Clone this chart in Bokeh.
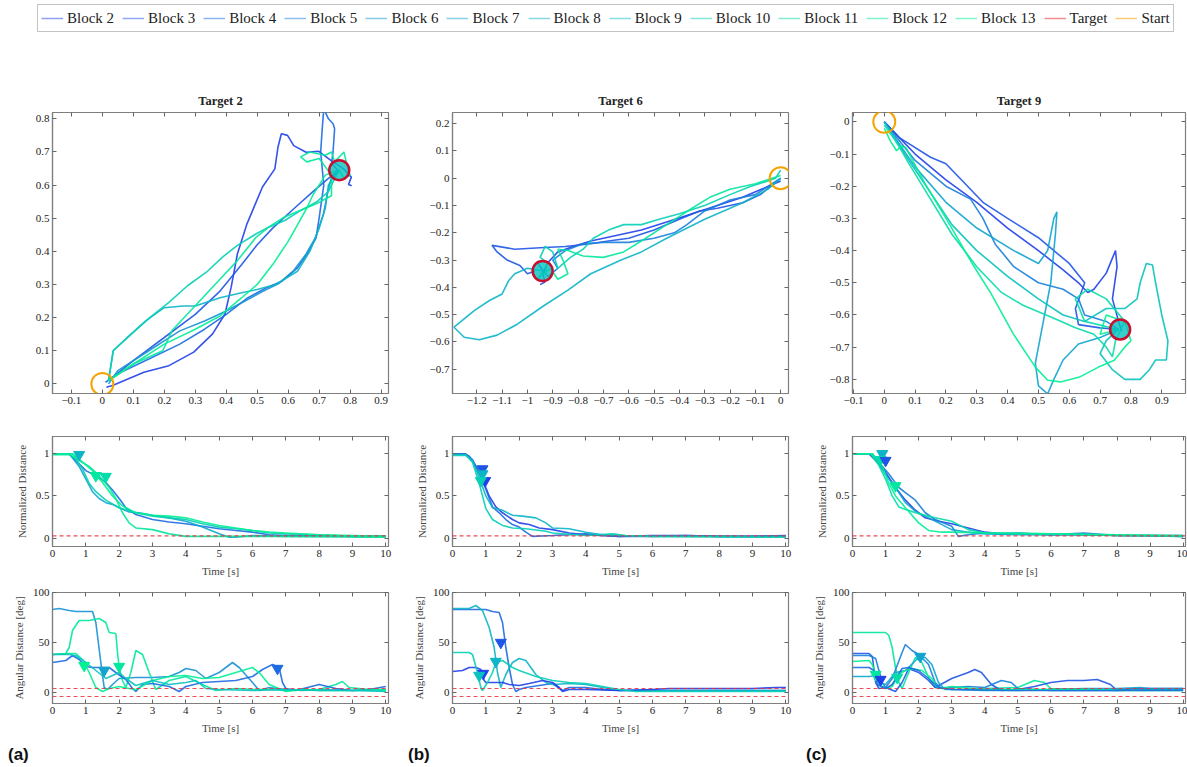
from bokeh.plotting import figure
from bokeh.models import (Range1d, LinearAxis, FixedTicker, CustomJSTickFormatter,
                          Span, Legend, LegendItem, Div)
from bokeh.layouts import column, row
from bokeh.embed import file_html
from bokeh.resources import INLINE

SERIF = "Liberation Serif"
FRAME = "#7f7f7f"
TICK = "#666666"

BLOCKS = [2, 3, 4, 5, 6, 7, 8, 9, 10, 11, 12, 13]
BLOCK_COLORS = ["#1f3fea", "#1f55e6", "#1d6ae2", "#1a7fdc", "#1592d6", "#10a4cf",
                "#0cb4c8", "#08c2bf", "#06cfb5", "#04dcaa", "#02e79f", "#00f094"]
COLOR = dict(zip(BLOCKS, BLOCK_COLORS))
TARGET_COLOR = "#e8303c"
TARGET_RING = "#c8102e"
START_COLOR = "#f5a300"

# ---------------- trajectories (x, y) ----------------
# Target 2
T2_B2 = [(0.013, -0.010), (0.033, -0.005), (0.134, 0.035), (0.215, 0.055), (0.295, 0.096),
         (0.356, 0.151), (0.396, 0.211), (0.416, 0.292), (0.436, 0.392), (0.467, 0.483),
         (0.517, 0.594), (0.557, 0.649), (0.567, 0.714), (0.578, 0.755), (0.598, 0.750),
         (0.618, 0.719), (0.658, 0.699), (0.699, 0.702), (0.739, 0.674), (0.779, 0.649),
         (0.804, 0.624), (0.795, 0.602), (0.805, 0.598)]
T2_B3 = [(0.02, 0.01), (0.10, 0.07), (0.20, 0.14), (0.30, 0.21), (0.38, 0.28), (0.45, 0.36),
         (0.50, 0.42), (0.55, 0.47), (0.62, 0.53), (0.68, 0.58), (0.73, 0.62), (0.765, 0.645)]
T2_B4 = [(0.01, 0.005), (0.06, 0.035), (0.15, 0.075), (0.25, 0.12), (0.33, 0.165), (0.40, 0.21),
         (0.47, 0.26), (0.53, 0.29), (0.58, 0.31), (0.63, 0.35), (0.66, 0.39), (0.69, 0.44),
         (0.70, 0.50), (0.715, 0.60), (0.705, 0.70), (0.71, 0.77), (0.715, 0.83), (0.73, 0.80),
         (0.745, 0.785), (0.75, 0.77), (0.745, 0.70), (0.74, 0.665), (0.76, 0.645)]
T2_B6 = [(0.02, 0.0), (0.05, 0.04), (0.15, 0.10), (0.25, 0.16), (0.33, 0.19), (0.40, 0.22),
         (0.48, 0.26), (0.52, 0.28), (0.568, 0.302), (0.618, 0.342), (0.658, 0.392),
         (0.689, 0.443), (0.714, 0.513), (0.729, 0.584), (0.74, 0.624), (0.765, 0.645)]
T2_B8 = [(0.02, 0.01), (0.035, 0.10), (0.08, 0.14), (0.14, 0.19), (0.20, 0.23), (0.26, 0.235),
         (0.30, 0.235), (0.38, 0.26), (0.45, 0.275), (0.50, 0.285), (0.56, 0.30), (0.63, 0.34),
         (0.67, 0.40), (0.70, 0.47), (0.72, 0.53), (0.73, 0.60), (0.75, 0.63), (0.765, 0.645)]
T2_B10 = [(0.02, 0.01), (0.035, 0.10), (0.083, 0.141), (0.154, 0.201), (0.215, 0.246),
          (0.276, 0.297), (0.336, 0.337), (0.387, 0.382), (0.436, 0.418), (0.497, 0.453),
          (0.537, 0.473), (0.589, 0.493), (0.64, 0.523), (0.69, 0.548), (0.73, 0.58),
          (0.75, 0.62), (0.765, 0.645)]
T2_B12 = [(0.02, 0.01), (0.10, 0.06), (0.195, 0.10), (0.21, 0.13), (0.225, 0.161), (0.265, 0.201),
          (0.315, 0.251), (0.376, 0.312), (0.436, 0.372), (0.497, 0.443), (0.537, 0.473),
          (0.587, 0.503), (0.638, 0.523), (0.689, 0.543), (0.74, 0.568), (0.74, 0.63),
          (0.70, 0.68), (0.66, 0.67), (0.64, 0.685), (0.67, 0.70), (0.72, 0.69), (0.74, 0.70),
          (0.75, 0.67), (0.78, 0.70), (0.79, 0.66), (0.80, 0.63), (0.78, 0.62), (0.765, 0.645)]
T2_B13 = [(0.02, 0.01), (0.10, 0.06), (0.20, 0.12), (0.30, 0.165), (0.38, 0.205), (0.45, 0.26),
          (0.50, 0.30), (0.55, 0.36), (0.60, 0.43), (0.63, 0.48), (0.66, 0.53), (0.68, 0.57),
          (0.70, 0.60), (0.72, 0.63), (0.76, 0.645)]
# Target 6
T6_B2 = [(0.0, -0.01), (-0.05, -0.03), (-0.15, -0.07), (-0.25, -0.10), (-0.35, -0.13),
         (-0.45, -0.16), (-0.55, -0.19), (-0.65, -0.21), (-0.75, -0.23), (-0.82, -0.25),
         (-0.88, -0.27), (-0.92, -0.31), (-0.94, -0.35), (-0.93, -0.38), (-0.95, -0.39)]
T6_B3 = [(0.0, 0.0), (-0.08, -0.06), (-0.15, -0.09), (-0.25, -0.11), (-0.32, -0.12),
         (-0.40, -0.15), (-0.50, -0.19), (-0.60, -0.22), (-0.68, -0.23), (-0.75, -0.24),
         (-0.85, -0.25), (-0.95, -0.255), (-1.05, -0.26), (-1.14, -0.246), (-1.12, -0.27),
         (-1.08, -0.30), (-1.03, -0.32), (-1.00, -0.35), (-0.97, -0.34)]
T6_B5 = [(0.0, 0.0), (-0.1, -0.06), (-0.2, -0.08), (-0.3, -0.12), (-0.37, -0.17), (-0.42, -0.20),
         (-0.5, -0.22), (-0.6, -0.235), (-0.7, -0.235), (-0.78, -0.24), (-0.85, -0.265),
         (-0.90, -0.30), (-0.88, -0.33), (-0.92, -0.36), (-0.96, -0.31), (-0.94, -0.34)]
T6_B8 = [(0.0, 0.0), (-0.05, -0.04), (-0.15, -0.09), (-0.3, -0.15), (-0.45, -0.22),
         (-0.55, -0.27), (-0.63, -0.30), (-0.75, -0.35), (-0.84, -0.41), (-0.94, -0.47),
         (-1.04, -0.535), (-1.12, -0.575), (-1.19, -0.592), (-1.25, -0.583), (-1.29, -0.546),
         (-1.21, -0.485), (-1.15, -0.448), (-1.10, -0.424), (-1.074, -0.375), (-1.05, -0.35),
         (-1.0, -0.33), (-0.94, -0.34)]
T6_B10 = [(0.0, 0.03), (-0.02, 0.0), (-0.05, -0.01), (-0.12, -0.03), (-0.2, -0.06), (-0.3, -0.10),
          (-0.4, -0.13), (-0.48, -0.15), (-0.55, -0.17), (-0.62, -0.17), (-0.68, -0.19),
          (-0.74, -0.22), (-0.78, -0.26), (-0.83, -0.29), (-0.88, -0.33), (-0.90, -0.27),
          (-0.93, -0.25), (-0.95, -0.29), (-0.92, -0.31), (-0.93, -0.34)]
T6_B12 = [(0.0, 0.01), (-0.1, -0.02), (-0.2, -0.04), (-0.28, -0.07), (-0.35, -0.11),
          (-0.45, -0.17), (-0.55, -0.23), (-0.62, -0.27), (-0.7, -0.29), (-0.78, -0.285),
          (-0.84, -0.265), (-0.88, -0.26), (-0.86, -0.30), (-0.84, -0.35), (-0.88, -0.37),
          (-0.91, -0.33), (-0.96, -0.37), (-0.94, -0.34)]
# Target 9
T9_B2 = [(0.0, 0.0), (0.1, -0.10), (0.2, -0.18), (0.3, -0.25), (0.4, -0.33), (0.5, -0.40),
         (0.58, -0.46), (0.63, -0.50), (0.66, -0.53), (0.68, -0.52), (0.72, -0.47), (0.75, -0.40),
         (0.755, -0.45), (0.74, -0.55), (0.76, -0.62), (0.77, -0.65)]
T9_B3 = [(0.0, 0.0), (0.05, -0.05), (0.15, -0.11), (0.2, -0.13), (0.25, -0.18), (0.32, -0.25),
         (0.4, -0.30), (0.5, -0.36), (0.6, -0.44), (0.65, -0.50), (0.62, -0.58), (0.63, -0.63),
         (0.70, -0.64), (0.76, -0.645)]
T9_B5 = [(0.0, 0.0), (0.1, -0.12), (0.2, -0.20), (0.28, -0.24), (0.32, -0.30), (0.36, -0.38),
         (0.42, -0.45), (0.5, -0.50), (0.58, -0.52), (0.63, -0.55), (0.65, -0.60), (0.72, -0.62),
         (0.76, -0.645)]
T9_B7 = [(0.0, 0.0), (0.1, -0.14), (0.2, -0.25), (0.3, -0.33), (0.42, -0.40), (0.5, -0.44),
         (0.53, -0.40), (0.55, -0.30), (0.56, -0.28), (0.555, -0.35), (0.54, -0.5), (0.52, -0.6),
         (0.50, -0.7), (0.49, -0.75), (0.50, -0.82), (0.53, -0.845), (0.55, -0.80), (0.58, -0.74),
         (0.63, -0.69), (0.70, -0.67), (0.76, -0.645)]
T9_B9 = [(0.0, 0.0), (0.08, -0.12), (0.15, -0.22), (0.22, -0.32), (0.3, -0.40), (0.4, -0.48),
         (0.5, -0.55), (0.58, -0.60), (0.65, -0.62), (0.72, -0.58), (0.78, -0.58), (0.82, -0.55),
         (0.83, -0.50), (0.85, -0.44), (0.87, -0.445), (0.88, -0.5), (0.9, -0.6), (0.92, -0.68),
         (0.915, -0.74), (0.88, -0.74), (0.86, -0.77), (0.83, -0.8), (0.78, -0.80), (0.74, -0.77),
         (0.70, -0.72), (0.72, -0.68), (0.76, -0.645)]
T9_B11 = [(0.0, -0.01), (0.03, -0.05), (0.05, -0.08), (0.08, -0.13), (0.15, -0.24), (0.22, -0.35),
          (0.3, -0.45), (0.38, -0.53), (0.45, -0.57), (0.55, -0.61), (0.62, -0.64), (0.68, -0.66),
          (0.72, -0.70), (0.74, -0.73), (0.75, -0.68), (0.78, -0.62), (0.72, -0.55), (0.66, -0.52),
          (0.62, -0.55), (0.65, -0.62), (0.76, -0.645)]
T9_B13 = [(0.0, -0.02), (0.02, -0.06), (0.04, -0.09), (0.054, -0.076), (0.07, -0.08),
          (0.131, -0.19), (0.203, -0.304), (0.285, -0.44), (0.346, -0.533), (0.418, -0.658),
          (0.49, -0.762), (0.53, -0.803), (0.572, -0.808), (0.633, -0.793), (0.695, -0.762),
          (0.746, -0.741), (0.78, -0.70), (0.80, -0.68), (0.78, -0.62), (0.72, -0.60),
          (0.70, -0.66), (0.76, -0.645)]

TOP_A = [(2, T2_B2), (3, T2_B3), (4, T2_B4), (6, T2_B6), (8, T2_B8), (10, T2_B10),
         (12, T2_B12), (13, T2_B13)]
TOP_B = [(2, T6_B2), (3, T6_B3), (5, T6_B5), (8, T6_B8), (10, T6_B10), (12, T6_B12)]
TOP_C = [(2, T9_B2), (3, T9_B3), (5, T9_B5), (7, T9_B7), (9, T9_B9), (11, T9_B11), (13, T9_B13)]

START_XY = (0.0, 0.0)
TARGET_A = (0.765, 0.645)
TARGET_B = (-0.94, -0.34)
TARGET_C = (0.765, -0.645)

# ---------------- normalized distance (t, value) ----------------
ND_A = [
    (4, [(0, 1), (0.5, 1), (0.8, 0.88), (1, 0.80), (1.3, 0.74), (1.6, 0.66), (1.8, 0.57), (2, 0.47),
         (2.2, 0.36), (2.5, 0.28), (3, 0.22), (3.5, 0.19), (4, 0.17), (4.5, 0.14), (5, 0.11),
         (5.5, 0.09), (6, 0.07), (6.5, 0.04), (7, 0.03), (8, 0.03), (9, 0.02), (10, 0.02)]),
    (7, [(0, 1), (0.5, 1), (0.8, 0.85), (1, 0.70), (1.2, 0.55), (1.4, 0.47), (1.6, 0.42), (1.8, 0.40),
         (2, 0.36), (2.3, 0.31), (2.6, 0.30), (3, 0.27), (3.5, 0.24), (4, 0.20), (4.5, 0.13),
         (5, 0.05), (5.3, 0.01), (5.5, 0.01), (6, 0.03), (7, 0.02), (8, 0.02), (9, 0.02), (10, 0.02)]),
    (10, [(0, 1), (0.6, 1), (0.9, 0.82), (1.1, 0.65), (1.3, 0.55), (1.6, 0.45), (2, 0.36), (2.5, 0.30),
          (3, 0.26), (3.5, 0.24), (4, 0.22), (4.5, 0.17), (5, 0.13), (5.5, 0.11), (6, 0.09),
          (6.5, 0.06), (7, 0.05), (8, 0.04), (9, 0.02), (10, 0.02)]),
    (12, [(0, 0.99), (0.5, 0.99), (0.8, 0.92), (1.1, 0.85), (1.4, 0.74), (1.7, 0.60), (1.9, 0.47),
          (2.1, 0.30), (2.3, 0.18), (2.5, 0.12), (3, 0.10), (3.5, 0.05), (4, 0.02), (5, 0.02),
          (6, 0.02), (7, 0.02), (10, 0.01)]),
    (13, [(0, 1), (0.6, 1), (0.9, 0.90), (1.2, 0.80), (1.5, 0.66), (1.8, 0.50), (2.1, 0.38),
          (2.5, 0.30), (3, 0.27), (3.5, 0.26), (4, 0.24), (4.5, 0.19), (5, 0.15), (5.5, 0.12),
          (6, 0.09), (6.5, 0.07), (7, 0.06), (8, 0.04), (9, 0.03), (10, 0.02)]),
]
ND_B = [
    (2, [(0, 1), (0.3, 1), (0.5, 0.97), (0.7, 0.85), (0.9, 0.70), (1.1, 0.50), (1.3, 0.37), (1.5, 0.30),
         (1.8, 0.22), (2.0, 0.18), (2.3, 0.16), (2.6, 0.12), (3, 0.10), (3.5, 0.06), (4, 0.04),
         (5, 0.02), (6, 0.03), (7, 0.03), (8, 0.02), (9, 0.02), (10, 0.03)]),
    (4, [(0, 1), (0.4, 1), (0.6, 0.93), (0.8, 0.78), (1.0, 0.58), (1.2, 0.37), (1.4, 0.30), (1.6, 0.22),
         (1.8, 0.16), (2.0, 0.13), (2.2, 0.07), (2.4, 0.02), (3, 0.03), (4, 0.05), (5, 0.02),
         (6, 0.02), (7, 0.03), (8, 0.02), (10, 0.02)]),
    (8, [(0, 0.99), (0.4, 0.99), (0.6, 0.92), (0.8, 0.72), (1.0, 0.50), (1.2, 0.36), (1.5, 0.33),
         (1.8, 0.27), (2.1, 0.26), (2.5, 0.24), (2.8, 0.18), (3, 0.12), (3.5, 0.11), (4, 0.07),
         (4.5, 0.04), (5, 0.03), (6, 0.02), (8, 0.02), (10, 0.02)]),
    (10, [(0, 0.98), (0.4, 0.98), (0.6, 0.90), (0.8, 0.65), (1.0, 0.35), (1.2, 0.22), (1.5, 0.15),
          (1.8, 0.12), (2.2, 0.11), (2.8, 0.08), (3, 0.06), (4, 0.03), (4.8, 0.05), (5.2, 0.03),
          (6, 0.02), (10, 0.01)]),
]
ND_C = [
    (2, [(0, 1), (0.5, 1), (0.8, 0.88), (1, 0.78), (1.3, 0.60), (1.6, 0.45), (1.9, 0.33), (2.2, 0.24),
         (2.6, 0.20), (3, 0.17), (3.5, 0.12), (4, 0.07), (4.5, 0.05), (5, 0.06), (6, 0.04),
         (7, 0.04), (8, 0.03), (10, 0.03)]),
    (5, [(0, 1), (0.5, 1), (0.8, 0.90), (1.1, 0.76), (1.4, 0.60), (1.6, 0.54), (1.9, 0.45), (2.2, 0.30),
         (2.5, 0.22), (3, 0.14), (3.2, 0.02), (3.5, 0.04), (4, 0.06), (5, 0.05), (6, 0.04),
         (7, 0.06), (8, 0.03), (9, 0.03), (10, 0.02)]),
    (7, [(0, 1), (0.6, 1), (0.8, 0.88), (1.0, 0.75), (1.3, 0.60), (1.6, 0.42), (1.9, 0.32),
         (2.2, 0.26), (2.6, 0.18), (3, 0.10), (3.5, 0.07), (4, 0.05), (5, 0.04), (7, 0.04), (10, 0.02)]),
    (11, [(0, 1), (0.55, 1), (0.8, 0.86), (1.0, 0.70), (1.2, 0.50), (1.4, 0.37), (1.6, 0.34),
          (2, 0.29), (2.5, 0.24), (3, 0.20), (3.5, 0.10), (4, 0.06), (5, 0.05), (6, 0.05),
          (8, 0.03), (10, 0.02)]),
    (13, [(0, 1), (0.6, 1), (0.9, 0.85), (1.1, 0.65), (1.3, 0.50), (1.6, 0.36), (2, 0.18),
          (2.3, 0.09), (2.7, 0.07), (3, 0.07), (4, 0.06), (5, 0.06), (6, 0.05), (8, 0.04), (10, 0.03)]),
]
ND_MARK_A = [(8, 0.8, 0.99), (12, 1.3, 0.74), (11, 1.6, 0.73)]
ND_MARK_B = [(3, 0.9, 0.82), (8, 0.9, 0.76), (2, 0.98, 0.68), (10, 0.85, 0.68)]
ND_MARK_C = [(8, 0.9, 1.0), (11, 0.85, 0.93), (3, 1.0, 0.92), (12, 1.3, 0.62)]
ND_THRESHOLD = 0.025

# ---------------- angular distance (t, deg) ----------------
AD_A = [
    (6, [(0, 83), (0.2, 84), (0.5, 82), (0.7, 81), (1.2, 81), (1.3, 70), (1.45, 30), (1.55, 5),
         (1.65, 3), (1.8, 8), (2.0, 14), (2.5, 15), (3, 15), (3.5, 16), (3.8, 20), (4, 24),
         (4.3, 22), (4.6, 14), (5, 20), (5.4, 30), (5.6, 25), (6, 10), (6.2, 2), (6.5, 5),
         (7, 3), (7.5, 2), (8, 3), (9, 2), (10, 3)]),
    (12, [(0, 38), (0.4, 39), (0.5, 45), (0.6, 62), (0.8, 72), (1.1, 72), (1.4, 74), (1.6, 70),
          (1.7, 60), (1.9, 59), (1.95, 40), (2.0, 25), (2.1, 12), (2.2, 5), (2.35, 20), (2.5, 42),
          (2.7, 38), (2.9, 20), (3.1, 3), (3.5, 12), (4, 16), (4.5, 8), (4.9, 2), (5.5, 4), (6, 3),
          (6.5, 3), (7, 2), (8, 3), (8.5, 8), (8.7, 11), (8.9, 5), (9.5, 3), (10, 2)]),
    (4, [(0, 30), (0.4, 32), (0.6, 37), (0.8, 33), (1, 26), (1.2, 25), (1.5, 25), (1.7, 25),
         (1.9, 20), (2.2, 13), (2.4, 4), (2.5, 1), (2.7, 8), (3, 9), (3.5, 6), (3.8, 1), (4, 6),
         (4.5, 10), (5, 11), (5.5, 12), (6, 16), (6.3, 23), (6.6, 28), (6.8, 25), (6.9, 10),
         (7, 4), (7.3, 2), (8, 8), (8.5, 4), (9, 2), (9.5, 3), (10, 6)]),
    (13, [(0, 38), (0.5, 39), (0.7, 39), (0.9, 33), (1.1, 20), (1.3, 5), (1.5, 1), (1.7, 4), (2, 6),
          (2.3, 4), (2.5, 3), (3, 12), (3.5, 16), (4, 17), (4.5, 14), (5, 15), (5.5, 20), (6, 25),
          (6.2, 20), (6.5, 8), (7, 1), (7.5, 3), (8, 2), (9, 2), (10, 3)]),
    (9, [(0, 38), (0.5, 38), (0.7, 37), (1, 30), (1.3, 22), (1.6, 14), (2, 20), (2.2, 14), (2.5, 7),
         (3, 12), (3.5, 8), (4, 10), (4.3, 12), (4.6, 4), (5, 3), (6, 2), (7, 3), (8, 2), (9, 2),
         (10, 1)]),
]
AD_B = [
    (4, [(0, 83), (0.5, 83), (1.0, 83), (1.2, 81), (1.4, 80), (1.5, 70), (1.6, 45), (1.7, 25),
         (1.8, 8), (1.9, 1), (2.0, 3), (2.2, 5), (2.6, 7), (3, 9), (3.3, 2), (3.5, 5), (4, 5),
         (4.5, 3), (5, 2), (6, 2), (7, 2), (8, 2), (10, 2)]),
    (8, [(0, 84), (0.5, 84), (0.7, 87), (0.9, 82), (1.1, 65), (1.25, 45), (1.35, 20), (1.45, 5),
         (1.6, 18), (1.8, 30), (2, 34), (2.2, 32), (2.5, 18), (2.8, 10), (3, 8), (3.5, 9), (4, 8),
         (4.5, 5), (5, 2), (6, 2), (7, 2), (8, 2), (10, 2)]),
    (2, [(0, 21), (0.3, 22), (0.5, 25), (0.7, 25), (0.85, 23), (0.95, 12), (1.0, 10), (1.2, 10),
         (1.5, 10), (1.7, 8), (2, 7), (2.3, 9), (2.7, 12), (3, 10), (3.2, 5), (3.3, 1), (3.5, 3),
         (4, 3), (5, 2), (6, 3), (6.5, 4), (7, 4), (8, 4), (9, 4), (9.7, 5), (10, 5)]),
    (10, [(0, 40), (0.5, 40), (0.6, 38), (0.75, 20), (0.85, 5), (0.9, 2), (1.05, 10), (1.2, 20),
          (1.3, 30), (1.5, 32), (1.8, 25), (2.0, 22), (2.5, 16), (3, 12), (3.5, 10), (4, 9),
          (4.5, 6), (5, 3), (5.5, 1), (6, 1), (7, 1), (8, 1), (10, 1)]),
]
AD_C = [
    (12, [(0, 60), (0.5, 60), (1, 60), (1.1, 57), (1.2, 45), (1.3, 25), (1.4, 10), (1.5, 4),
          (1.7, 20), (1.9, 35), (2.1, 30), (2.3, 15), (2.5, 5), (3, 3), (4, 4), (5, 5), (5.5, 12),
          (5.8, 10), (6, 4), (7, 3), (8, 3), (9, 3), (10, 3)]),
    (3, [(0, 39), (0.5, 39), (0.6, 36), (0.7, 10), (0.8, 4), (1, 5), (1.3, 1), (1.5, 10), (1.7, 24),
         (2, 20), (2.3, 12), (2.5, 5), (3, 14), (3.5, 20), (3.7, 23), (3.9, 20), (4.2, 8), (4.5, 2),
         (5, 3), (5.5, 6), (6, 10), (6.5, 12), (7, 12), (7.4, 13), (7.8, 8), (8, 2), (8.5, 4),
         (9, 4), (10, 4)]),
    (5, [(0, 37), (0.5, 37), (0.7, 34), (0.9, 10), (1.0, 5), (1.2, 14), (1.5, 40), (1.6, 48),
         (1.8, 42), (2, 38), (2.3, 28), (2.5, 10), (2.7, 4), (3, 5), (3.5, 6), (4, 5), (4.5, 12),
         (4.8, 10), (5, 4), (5.5, 3), (6, 2), (7, 2), (8, 2), (9, 3), (10, 3)]),
    (7, [(0, 16), (0.5, 16), (0.7, 17), (0.8, 10), (1, 8), (1.3, 20), (1.6, 22), (2, 35), (2.2, 35),
         (2.4, 28), (2.6, 10), (2.8, 3), (3, 3), (4, 2), (5, 2), (6, 3), (7, 4), (8, 4), (8.7, 5),
         (9, 4), (10, 4)]),
    (13, [(0, 31), (0.5, 32), (0.6, 28), (0.8, 8), (1, 4), (1.2, 6), (1.4, 18), (1.6, 22),
          (1.8, 24), (2.1, 22), (2.4, 14), (2.6, 4), (3, 6), (4, 3), (5, 3), (6, 3), (7, 3),
          (8, 2), (9, 2), (10, 2)]),
    (4, [(0, 25), (0.5, 25), (0.65, 22), (0.75, 8), (1, 4), (1.2, 8), (1.5, 24), (1.7, 25),
         (2, 22), (2.3, 14), (2.6, 5), (3, 3), (5, 2), (7, 2), (10, 2)]),
]
AD_MARK_A = [(13, 0.95, 27), (7, 1.55, 22), (12, 2.0, 26), (4, 6.75, 24)]
AD_MARK_B = [(2, 0.92, 19), (9, 0.8, 17), (3, 1.45, 50), (8, 1.3, 31)]
AD_MARK_C = [(12, 0.7, 18), (2, 0.85, 13), (11, 1.35, 15), (7, 2.05, 36)]
AD_THRESHOLDS = [4, -4]

TIME_TICKS = [0, 1, 2, 3, 4, 5, 6, 7, 8, 9, 10]
ND_TICKS = [0, 0.5, 1]
AD_TICKS = [0, 50, 100]
TOP_A_XTICKS = [-0.1, 0, 0.1, 0.2, 0.3, 0.4, 0.5, 0.6, 0.7, 0.8, 0.9]
TOP_A_YTICKS = [0, 0.1, 0.2, 0.3, 0.4, 0.5, 0.6, 0.7, 0.8]
TOP_B_XTICKS = [-1.2, -1.1, -1, -0.9, -0.8, -0.7, -0.6, -0.5, -0.4, -0.3, -0.2, -0.1, 0]
TOP_B_YTICKS = [-0.7, -0.6, -0.5, -0.4, -0.3, -0.2, -0.1, 0, 0.1, 0.2]
TOP_C_XTICKS = [-0.1, 0, 0.1, 0.2, 0.3, 0.4, 0.5, 0.6, 0.7, 0.8, 0.9]
TOP_C_YTICKS = [-0.8, -0.7, -0.6, -0.5, -0.4, -0.3, -0.2, -0.1, 0]

FMT = """
const a = Math.abs(tick);
if (a < 1e-9) { return "0"; }
const s = (Math.round(a * 10) / 10).toString();
return tick < 0 ? "\\u2212" + s : s;
"""


def cfg_axis(ax, ticks):
    ax.ticker = FixedTicker(ticks=ticks)
    ax.formatter = CustomJSTickFormatter(code=FMT)
    ax.major_tick_in = 4
    ax.major_tick_out = 0
    ax.minor_tick_line_color = None
    ax.major_tick_line_color = TICK
    ax.axis_line_color = FRAME
    ax.axis_line_width = 1.2
    ax.major_label_text_font = SERIF
    ax.major_label_text_font_size = "11px"
    ax.major_label_text_color = "#222222"
    ax.major_label_standoff = 3
    ax.axis_label_text_font = SERIF
    ax.axis_label_text_font_size = "11px"
    ax.axis_label_text_font_style = "normal"
    ax.axis_label_text_color = "#444444"
    ax.axis_label_standoff = 5


def mirror_axis(ticks):
    return LinearAxis(ticker=FixedTicker(ticks=ticks), major_label_text_font_size="1px",
                      major_label_text_color=None, major_label_standoff=0,
                      major_tick_in=4, major_tick_out=0,
                      major_tick_line_color=TICK, minor_tick_line_color=None,
                      axis_line_color=None)


def make_fig(w, h, xr, yr, borders, xticks, yticks, xlabel=None, ylabel=None, title=None):
    l, r, t, b = borders
    kw = dict(width=w, height=h, x_range=Range1d(*xr), y_range=Range1d(*yr),
              output_backend="svg", toolbar_location=None,
              min_border_left=l, min_border_right=r, min_border_top=t, min_border_bottom=b)
    if title:
        kw["title"] = title
    p = figure(**kw)
    if title:
        p.title.align = "center"
        p.title.text_font = SERIF
        p.title.text_font_size = "12.5px"
        p.title.text_font_style = "bold"
        p.title.text_color = "#222222"
    p.xgrid.visible = False
    p.ygrid.visible = False
    p.outline_line_color = FRAME
    p.outline_line_width = 1.2
    cfg_axis(p.xaxis[0], xticks)
    cfg_axis(p.yaxis[0], yticks)
    if xlabel:
        p.xaxis[0].axis_label = xlabel
    if ylabel:
        p.yaxis[0].axis_label = ylabel
    p.add_layout(mirror_axis(xticks), "above")
    p.add_layout(mirror_axis(yticks), "right")
    return p


def top_panel(w, xr, yr, borders, xticks, yticks, title, curves, target):
    p = make_fig(w, 380, xr, yr, borders, xticks, yticks, title=title)
    for blk, pts in curves:
        p.line([q[0] for q in pts], [q[1] for q in pts], line_color=COLOR[blk],
               line_width=1.6, line_alpha=0.9)
    p.scatter([target[0]], [target[1]], size=20, marker="circle", fill_color=COLOR[9],
              fill_alpha=0.8, line_color=TARGET_RING, line_width=2.5)
    p.scatter([START_XY[0]], [START_XY[1]], size=22, marker="circle", fill_color=None,
              line_color=START_COLOR, line_width=2)
    return p


def series_panel(w, h, yr, borders, yticks, ylabel, curves, marks, thresholds, xend):
    p = make_fig(w, h, (0, xend), yr, borders, TIME_TICKS, yticks,
                 xlabel="Time [s]", ylabel=ylabel)
    for th in thresholds:
        p.add_layout(Span(location=th, dimension="width", line_color=TARGET_COLOR,
                          line_alpha=0.85, line_dash="4 3", line_width=1.2))
    for blk, pts in curves:
        p.line([q[0] for q in pts], [q[1] for q in pts], line_color=COLOR[blk],
               line_width=1.6, line_alpha=0.9)
    p.scatter([m[1] for m in marks], [m[2] for m in marks], marker="inverted_triangle",
              size=11, fill_color=[COLOR[m[0]] for m in marks],
              line_color=[COLOR[m[0]] for m in marks])
    return p


# ---------------- legend strip ----------------
leg = figure(width=1187, height=38, x_range=Range1d(0, 1), y_range=Range1d(0, 1),
             x_axis_type=None, y_axis_type=None, output_backend="svg",
             toolbar_location=None, min_border=0)
leg.outline_line_color = None
leg.xgrid.visible = False
leg.ygrid.visible = False
OFF = [5, 6]  # dummy line outside the visible range, only used for the legend glyphs
items = []
for blk in BLOCKS:
    r = leg.line(OFF, OFF, line_color=COLOR[blk], line_alpha=0.5, line_width=1.5)
    items.append(LegendItem(label="Block %d" % blk, renderers=[r]))
r = leg.line(OFF, OFF, line_color=TARGET_COLOR, line_alpha=0.55, line_width=1.5)
items.append(LegendItem(label="Target", renderers=[r]))
r = leg.line(OFF, OFF, line_color=START_COLOR, line_alpha=0.55, line_width=1.5)
items.append(LegendItem(label="Start", renderers=[r]))
legend = Legend(items=items, orientation="horizontal", location=(37, 6),
                label_text_font=SERIF, label_text_font_size="15px", label_text_color="#222222",
                glyph_width=22, glyph_height=20, label_height=20, label_standoff=4,
                spacing=8, padding=3, margin=0, border_line_color="#888888",
                border_line_width=1.2, background_fill_color="white")
leg.add_layout(legend, "center")

# ---------------- panels ----------------
pa = top_panel(400, (-0.161, 0.924), (-0.029, 0.819), (40, 5, 74, 25),
               TOP_A_XTICKS, TOP_A_YTICKS, "Target 2", TOP_A, TARGET_A)
pb = top_panel(400, (-1.296, 0.031), (-0.789, 0.241), (37, 6, 74, 25),
               TOP_B_XTICKS, TOP_B_YTICKS, "Target 6", TOP_B, TARGET_B)
pc = top_panel(387, (-0.103, 0.977), (-0.844, 0.029), (34, 2, 74, 25),
               TOP_C_XTICKS, TOP_C_YTICKS, "Target 9", TOP_C, TARGET_C)

ma = series_panel(400, 162, (-0.1, 1.205), (52, 12, 18, 34), ND_TICKS, "Normalized Distance",
                  ND_A, ND_MARK_A, [ND_THRESHOLD], 10.08)
mb = series_panel(400, 162, (-0.1, 1.205), (52, 12, 18, 34), ND_TICKS, "Normalized Distance",
                  ND_B, ND_MARK_B, [ND_THRESHOLD], 10.08)
mc = series_panel(387, 162, (-0.1, 1.205), (52, 2, 18, 34), ND_TICKS, "Normalized Distance",
                  ND_C, ND_MARK_C, [ND_THRESHOLD], 10.07)

ba = series_panel(400, 163, (-11, 100), (52, 12, 12, 40), AD_TICKS, "Angular Distance [deg]",
                  AD_A, AD_MARK_A, AD_THRESHOLDS, 10.08)
bb = series_panel(400, 163, (-11, 100), (52, 12, 12, 40), AD_TICKS, "Angular Distance [deg]",
                  AD_B, AD_MARK_B, AD_THRESHOLDS, 10.08)
bc = series_panel(387, 163, (-11, 100), (52, 2, 12, 40), AD_TICKS, "Angular Distance [deg]",
                  AD_C, AD_MARK_C, AD_THRESHOLDS, 10.07)


def tag(text, w, pad):
    return Div(text=text, width=w, height=24, margin=(0, 0, 0, 0),
               styles={"font-family": "Liberation Sans, Arial, sans-serif", "font-weight": "bold",
                       "font-size": "17px", "padding-left": "%dpx" % pad, "color": "#111"})


col_a = column(pa, ma, ba, tag("(a)", 400, 8), spacing=0)
col_b = column(pb, mb, bb, tag("(b)", 400, 8), spacing=0)
col_c = column(pc, mc, bc, tag("(c)", 387, 6), spacing=0)
layout = column(leg, row(col_a, col_b, col_c, spacing=0), spacing=0)

open("out.html", "w").write(file_html(layout, INLINE))
